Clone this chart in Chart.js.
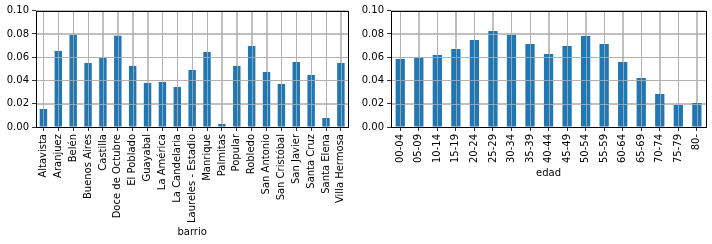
<!DOCTYPE html>
<html>
<head>
<meta charset="utf-8">
<script src="https://cdn.jsdelivr.net/npm/chart.js@4/dist/chart.umd.min.js"></script>
<style>
  html, body { margin: 0; padding: 0; background: #fff; }
  #wrap { position: relative; width: 712px; height: 244px; }
  .box { position: absolute; top: 0; width: 356px; height: 244px; }
</style>
</head>
<body>
<div id="wrap">
  <div class="box" style="left:0"><canvas id="barrio"></canvas></div>
  <div class="box" style="left:356px"><canvas id="edad"></canvas></div>
</div>
<script>
const barrios = ['Altavista', 'Aranjuez', 'Belén', 'Buenos Aires', 'Castilla',
  'Doce de Octubre', 'El Poblado', 'Guayabal', 'La América', 'La Candelaria',
  'Laureles - Estadio', 'Manrique', 'Palmitas', 'Popular', 'Robledo',
  'San Antonio', 'San Cristóbal', 'San Javier', 'Santa Cruz', 'Santa Elena',
  'Villa Hermosa'];
const barrio_values = [0.0155, 0.0653, 0.0794, 0.0550, 0.0596,
  0.0785, 0.0524, 0.0378, 0.0387, 0.0344,
  0.0490, 0.0645, 0.0026, 0.0524, 0.0696,
  0.0473, 0.0370, 0.0559, 0.0447, 0.0077,
  0.0550];

const edades = ['00-04', '05-09', '10-14', '15-19', '20-24', '25-29', '30-34',
  '35-39', '40-44', '45-49', '50-54', '55-59', '60-64', '65-69', '70-74',
  '75-79', '80-'];
const edad_values = [0.0585, 0.0596, 0.0619, 0.0670, 0.0748, 0.0825, 0.0794,
  0.0713, 0.0628, 0.0696, 0.0782, 0.0713, 0.0559, 0.0421, 0.0284,
  0.0189, 0.0206];

const y_ticks = [0, 0.02, 0.04, 0.06, 0.08, 0.10];

const FONT = { family: 'DejaVu Sans', size: 10 };
const TEXT = '#000';
const GRID = '#b0b0b0';

// matplotlib draws the grid above the bars and a frame on all four sides
const overlay = {
  id: 'overlay',
  afterDatasetsDraw(chart) {
    const ctx = chart.ctx;
    const a = chart.chartArea;
    ctx.save();
    ctx.strokeStyle = GRID;
    ctx.lineWidth = 0.8;
    for (const id of ['x', 'y']) {
      const scale = chart.scales[id];
      scale.ticks.forEach((t, i) => {
        const p = Math.round(scale.getPixelForTick(i)) + 0.5;
        ctx.beginPath();
        if (id == 'x') { ctx.moveTo(p, a.top); ctx.lineTo(p, a.bottom); }
        else { ctx.moveTo(a.left, p); ctx.lineTo(a.right, p); }
        ctx.stroke();
      });
    }
    ctx.strokeStyle = '#000';
    ctx.lineWidth = 1;
    ctx.strokeRect(Math.round(a.left) + 0.5, Math.round(a.top) + 0.5,
      Math.round(a.right - a.left), Math.round(a.bottom - a.top));
    ctx.restore();
  }
};

function make_chart(id, labels, values, title, opts) {
  new Chart(document.getElementById(id), {
    type: 'bar',
    data: {
      labels: labels,
      datasets: [{
        data: values,
        backgroundColor: '#1f77b4',
        barPercentage: 0.5,
        categoryPercentage: 1.0,
      }]
    },
    options: {
      responsive: true,
      maintainAspectRatio: false,
      animation: false,
      layout: { padding: { top: 10.7, right: opts.right, bottom: opts.bottom, left: 0 } },
      plugins: { legend: { display: false }, tooltip: { enabled: false } },
      scales: {
        x: {
          offset: true,
          grid: { offset: false, color: GRID, tickColor: '#000', tickLength: 4, lineWidth: 0.8 },
          border: { display: false },
          ticks: { autoSkip: false, minRotation: 90, maxRotation: 90, padding: 3, color: TEXT, font: FONT },
          title: { display: true, text: title, color: TEXT, font: FONT, padding: 0 },
          afterFit(scale) { scale.height = opts.x_height; },
        },
        y: {
          min: 0,
          max: 0.1,
          afterBuildTicks(scale) { scale.ticks = y_ticks.map(v => ({ value: v })); },
          grid: { color: GRID, tickColor: '#000', tickLength: 4, lineWidth: 0.8 },
          border: { display: false },
          ticks: { padding: 3, color: TEXT, font: FONT, callback: v => v.toFixed(2) },
          afterFit(scale) { scale.width = opts.y_width; },
        }
      }
    },
    plugins: [overlay]
  });
}

make_chart('barrio', barrios, barrio_values, 'barrio',
  { y_width: 36, right: 4.3, x_height: 111, bottom: 6 });
make_chart('edad', edades, edad_values, 'edad',
  { y_width: 35, right: 5.3, x_height: 52, bottom: 65 });
</script>
</body>
</html>
